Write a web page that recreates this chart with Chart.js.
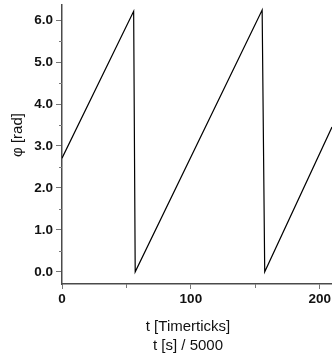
<!DOCTYPE html>
<html lang="en">
<head>
<meta charset="UTF-8">
<title>phi over time</title>
<script src="https://cdn.jsdelivr.net/npm/chart.js"></script>
<style>
  html, body { margin: 0; padding: 0; background: #fff; overflow: hidden; }
  #wrap { position: relative; width: 332px; height: 356px; }
</style>
</head>
<body>
<div id="wrap"><canvas id="myChart"></canvas></div>
<script>
// sawtooth vertices
var tValues = [0, 55.6, 56.8, 155.3, 157.3, 209.5]
var phiValues = [2.71, 6.21, 0.0, 6.24, 0.0, 3.45]

var xTicks = [0, 100, 200]
var xMinorTicks = [50, 150]
var yTicks = [0, 1, 2, 3, 4, 5, 6]
var yMinorTicks = [0.5, 1.5, 2.5, 3.5, 4.5, 5.5]

var xTitle = ['t [Timerticks]', 't [s] / 5000']
var yTitle = 'φ [rad]'

var points = tValues.map((t, i) => ({ x: t, y: phiValues[i] }))

// short minor ticks + axis titles
var extras = {
  id: 'extras',
  afterDraw(chart) {
    var c = chart.ctx
    var xs = chart.scales.x, ys = chart.scales.y
    var area = chart.chartArea
    c.save()
    c.strokeStyle = '#777'
    c.lineWidth = 1
    xMinorTicks.forEach(v => {
      var px = Math.round(xs.getPixelForValue(v)) + 0.5
      c.beginPath(); c.moveTo(px, area.bottom); c.lineTo(px, area.bottom + 4); c.stroke()
    })
    yMinorTicks.forEach(v => {
      var py = Math.round(ys.getPixelForValue(v)) + 0.5
      c.beginPath(); c.moveTo(area.left - 3, py); c.lineTo(area.left, py); c.stroke()
    })
    c.fillStyle = '#111'
    c.font = '15px "Liberation Sans", Arial, sans-serif'
    c.textAlign = 'center'
    c.textBaseline = 'middle'
    c.fillText(xTitle[0], 188, 327)
    c.fillText(xTitle[1], 188, 346)
    c.translate(18, 135)
    c.rotate(-Math.PI / 2)
    c.fillText(yTitle, 0, 0)
    c.restore()
  }
}

// keep the plot box fixed, no extra room for edge labels
function fixX(s) {
  s.height = 72
  s.paddingLeft = 0; s.paddingRight = 0
}
function fixY(s) {
  s.width = 62
  s.paddingTop = 0; s.paddingBottom = 0
}

var ctx = document.getElementById('myChart')
var myChart = new Chart(ctx, {
  type: 'scatter',
  data: {
    datasets: [{
      data: points,
      showLine: true,
      borderColor: '#000',
      borderWidth: 1.2,
      pointRadius: 0,
      tension: 0
    }]
  },
  options: {
    responsive: true,
    maintainAspectRatio: false,
    animation: false,
    layout: { padding: { top: 5, right: 0, left: 0, bottom: 0 } },
    plugins: { legend: { display: false }, tooltip: { enabled: false } },
    scales: {
      x: {
        type: 'linear',
        min: 0,
        max: 209.5,
        afterBuildTicks: s => { s.ticks = xTicks.map(v => ({ value: v })) },
        afterFit: fixX,
        border: { display: true, color: '#4a4a4a', width: 1.5 },
        grid: { drawOnChartArea: false, drawTicks: true, tickLength: 5, tickColor: '#777' },
        ticks: {
          color: '#111',
          padding: 2,
          maxRotation: 0,
          autoSkip: false,
          font: { family: '"Liberation Sans", Arial, sans-serif', size: 13.5, weight: 'bold' }
        }
      },
      y: {
        min: -0.29,
        max: 6.36,
        afterBuildTicks: s => { s.ticks = yTicks.map(v => ({ value: v })) },
        afterFit: fixY,
        border: { display: true, color: '#4a4a4a', width: 1.5 },
        grid: { drawOnChartArea: false, drawTicks: true, tickLength: 6, tickColor: '#777' },
        ticks: {
          color: '#111',
          padding: 3,
          callback: v => Number(v).toFixed(1),
          font: { family: '"Liberation Sans", Arial, sans-serif', size: 13.5, weight: 'bold' }
        }
      }
    }
  },
  plugins: [extras]
})
</script>
</body>
</html>
